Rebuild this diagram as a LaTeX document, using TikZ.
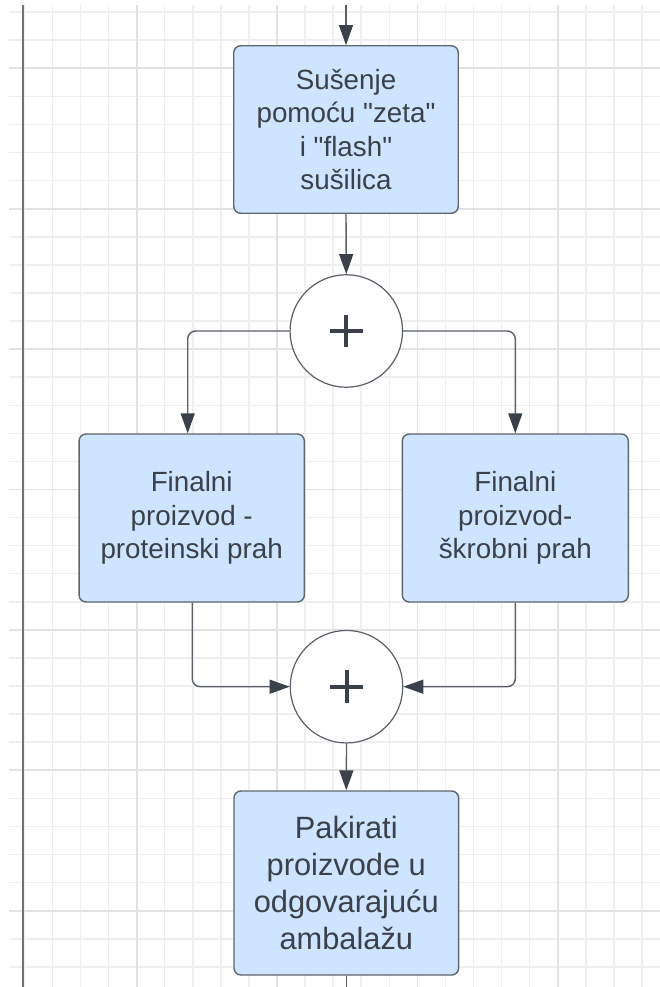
\documentclass[tikz,border=0pt]{standalone}
\usepackage{fontspec}
\setmainfont{Liberation Sans}
\usetikzlibrary{arrows.meta}
\definecolor{boxfill}{HTML}{CFE4FF}
\definecolor{boxline}{HTML}{5E6670}
\definecolor{txt}{HTML}{3A414A}
\definecolor{linec}{HTML}{5A6068}
\definecolor{gridminor}{HTML}{EFEFEF}
\definecolor{gridmajor}{HTML}{E2E2E2}
\definecolor{axisc}{HTML}{6E7176}
\begin{document}
\begin{tikzpicture}[x=1pt,y=-1pt,
  procbox/.style={draw=boxline, fill=boxfill, line width=1.4pt, rounded corners=7pt,
    inner sep=0pt, align=center, text=txt, font=\fontsize{27.8pt}{33.5pt}\selectfont},
  bigbox/.style={procbox, font=\fontsize{30.8pt}{37.2pt}\selectfont},
  junction/.style={circle, draw=linec, fill=white, line width=1.2pt, minimum size=112.5pt, inner sep=0pt},
  conn/.style={draw=linec, line width=1.4pt, rounded corners=8pt, -{Triangle[length=20pt,width=14pt,color=txt]}},
  plainline/.style={draw=linec, line width=1.4pt},
  plusbar/.style={draw=txt, line width=4pt},
  gminor/.style={draw=gridminor, line width=1.5pt},
  gmajor/.style={draw=gridmajor, line width=1.8pt},
]
\useasboundingbox[fill=white] (0,0) rectangle (660,987);
% grid
\foreach \k in {-4,...,18} {\draw[gminor] ({136.6+28.08*\k},5) -- ({136.6+28.08*\k},987);}
\foreach \k in {-2,...,32} {\draw[gminor] (9,{68.3+28.08*\k}) -- (660,{68.3+28.08*\k});}
\foreach \k in {0,5,10,15} {\draw[gmajor] ({136.6+28.08*\k},5) -- ({136.6+28.08*\k},987);}
\foreach \k in {0,5,...,30} {\draw[gmajor] (9,{68.3+28.08*\k}) -- (660,{68.3+28.08*\k});}
\draw[axisc, line width=2pt] (22.7,5) -- (22.7,987);

% nodes
\node[procbox, minimum width=224.5pt, minimum height=167.5pt] (dry) at (346,129.5)
  {Sušenje\\pomoću \textquotedbl zeta\textquotedbl\\i \textquotedbl flash\textquotedbl\\sušilica};
\node[junction] (j1) at (346.3,331) {};
\node[procbox, minimum width=225.3pt, minimum height=168pt] (prot) at (191.7,518)
  {Finalni\\proizvod -\\proteinski prah};
\node[procbox, minimum width=226pt, minimum height=168pt] (skrob) at (515.3,518)
  {Finalni\\proizvod-\\škrobni prah};
\node[junction] (j2) at (346.5,686.7) {};
\node[bigbox, minimum width=224.7pt, minimum height=184pt] (pack) at (346.3,883)
  {Pakirati\\proizvode u\\odgovarajuću\\ambalažu};

% plus signs
\draw[plusbar] ([xshift=-16.7pt]j1.center) -- ([xshift=16.7pt]j1.center);
\draw[plusbar] ([yshift=-16.3pt]j1.center) -- ([yshift=16.3pt]j1.center);
\draw[plusbar] ([xshift=-16.7pt]j2.center) -- ([xshift=16.7pt]j2.center);
\draw[plusbar] ([yshift=-16.3pt]j2.center) -- ([yshift=16.3pt]j2.center);

% connectors
\coordinate (start) at (346,5);
\coordinate (finish) at (346.3,987);
\draw[conn] (start) -- (dry.north);
\draw[conn] (dry.south) -- (j1.north);
\draw[conn] (j1.west) -| ([xshift=-4pt]prot.north);
\draw[conn] (j1.east) -| (skrob.north);
\draw[conn] ([xshift=0.5pt]prot.south) |- (j2.west);
\draw[conn] (skrob.south) |- (j2.east);
\draw[conn] (j2.south) -- (pack.north);
\draw[plainline] (pack.south) -- (finish);
\end{tikzpicture}
\end{document}
